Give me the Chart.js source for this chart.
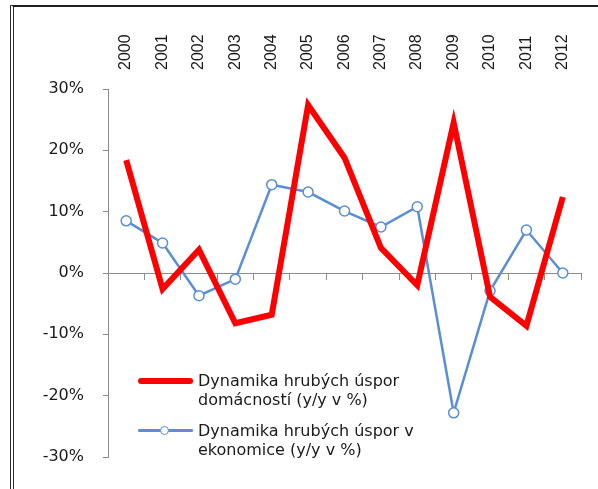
<!DOCTYPE html>
<html>
<head>
<meta charset="utf-8">
<script src="https://cdn.jsdelivr.net/npm/chart.js@4.4.0/dist/chart.umd.min.js"></script>
<style>
  html, body { margin: 0; padding: 0; background: #fff; }
  #wrap { position: relative; width: 598px; height: 489px; overflow: hidden; }
  #frame { position: absolute; left: 10px; top: 5px; width: 640px; height: 540px;
           border-top: 2px solid #1e1e1e; border-left: 4px double #2a2a2a; }
  #legend { position: absolute; left: 138px; top: 371px;
            font-family: 'DejaVu Sans'; font-size: 16px; line-height: 19px; color: #1a1a1a; }
  .item { display: flex; align-items: flex-start; margin-bottom: 12px; }
  .sample { position: relative; width: 55px; height: 19px; margin-right: 5px; flex: none; }
  .sample .ln { position: absolute; left: 0; right: 0; }
  .sample .dot { position: absolute; left: 22px; top: 5px; width: 7px; height: 7px;
                 border-radius: 50%; background: #fff; }
</style>
</head>
<body>
<div id="wrap">
  <canvas id="chart" width="598" height="489"></canvas>
  <div id="frame"></div>
  <div id="legend"></div>
</div>
<script>
// Données
const years = ['2000', '2001', '2002', '2003', '2004', '2005', '2006', '2007', '2008', '2009', '2010', '2011', '2012'];
const householdSavings = [18.4, -2.6, 3.8, -8.2, -6.8, 27.4, 18.8, 4.1, -2.0, 24.5, -3.9, -8.6, 12.4];
const economySavings = [8.5, 4.9, -3.7, -1.0, 14.4, 13.2, 10.1, 7.5, 10.8, -22.8, -2.9, 7.0, 0.0];
const householdLabel = ['Dynamika hrubých úspor', 'domácností (y/y v %)'];
const economyLabel = ['Dynamika hrubých úspor v', 'ekonomice (y/y v %)'];
const yMin = -30, yMax = 30, yStep = 10;

const RED = '#ff0000';
const BLUE = '#5a8ed6';
const AXIS = '#8c8c8c';
const TEXT = '#1a1a1a';

const chart = new Chart(document.getElementById('chart'), {
    type: 'line',
    data: {
        labels: years,
        datasets: [{
            label: householdLabel,
            data: householdSavings,
            borderColor: RED,
            backgroundColor: RED,
            borderWidth: 6,
            pointRadius: 0,
            tension: 0
        }, {
            label: economyLabel,
            data: economySavings,
            borderColor: BLUE,
            backgroundColor: '#fff',
            borderWidth: 2.5,
            pointRadius: 5,
            pointBackgroundColor: '#fff',
            pointBorderColor: BLUE,
            pointBorderWidth: 1.5,
            tension: 0
        }]
    },
    options: {
        responsive: false,
        animation: false,
        layout: { padding: { top: 0, left: 0, right: 17, bottom: 32 } },
        plugins: { legend: { display: false }, tooltip: { enabled: false } },
        scales: {
            x: {
                position: 'top',
                offset: true,
                grid: { display: false },
                border: { display: false },
                ticks: {
                    autoSkip: false, minRotation: 90, maxRotation: 90,
                    padding: 11, labelOffset: 19,
                    color: TEXT, font: { family: 'Liberation Sans', size: 16 }
                },
                afterFit: s => { s.height = 89; }
            },
            x2: {
                type: 'category',
                axis: 'x',
                position: { y: 0 },
                offset: true,
                grid: { offset: true, drawOnChartArea: false, tickLength: 6, color: AXIS },
                border: { color: AXIS },
                ticks: { display: false }
            },
            y: {
                min: yMin,
                max: yMax,
                grid: { drawOnChartArea: false, tickLength: 5, color: AXIS },
                border: { color: AXIS },
                ticks: {
                    stepSize: yStep, padding: 19, color: TEXT,
                    font: { family: 'DejaVu Sans', size: 16 },
                    callback: v => v + '%'
                },
                afterFit: s => { s.width = 108; }
            }
        }
    }
});

// Légende construite à partir des séries
const legend = document.getElementById('legend');
chart.data.datasets.forEach(ds => {
    const item = document.createElement('div');
    item.className = 'item';
    const sample = document.createElement('div');
    sample.className = 'sample';
    const ln = document.createElement('div');
    ln.className = 'ln';
    ln.style.background = ds.borderColor;
    ln.style.height = ds.borderWidth + 'px';
    ln.style.top = (9.5 - ds.borderWidth / 2) + 'px';
    ln.style.borderRadius = (ds.borderWidth / 2) + 'px';
    sample.appendChild(ln);
    if (ds.pointRadius > 0) {
        const dot = document.createElement('div');
        dot.className = 'dot';
        dot.style.border = ds.pointBorderWidth + 'px solid ' + ds.pointBorderColor;
        sample.appendChild(dot);
    }
    const txt = document.createElement('div');
    txt.innerHTML = ds.label.join('<br>');
    item.appendChild(sample);
    item.appendChild(txt);
    legend.appendChild(item);
});
</script>
</body>
</html>
